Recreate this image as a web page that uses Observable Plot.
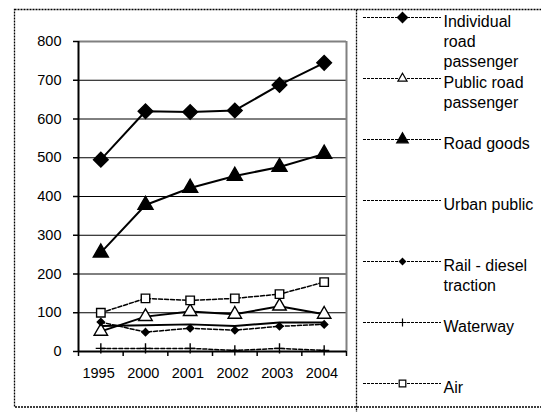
<!DOCTYPE html>
<html>
<head>
<meta charset="utf-8">
<script src="https://cdn.jsdelivr.net/npm/d3@7"></script>
<script src="https://cdn.jsdelivr.net/npm/@observablehq/plot@0.6"></script>
<style>
  html, body { margin: 0; padding: 0; background: #fff; overflow: hidden; }
  #wrap { position: relative; width: 541px; height: 412px; overflow: hidden; }
  #wrap > svg, #wrap > div { position: absolute; top: 0; }
</style>
</head>
<body>
<div id="wrap"></div>
<script>
// ---- data ----
const years = ["1995", "2000", "2001", "2002", "2003", "2004"];
const seriesNames = ["Individual road passenger", "Public road passenger", "Road goods", "Urban public", "Rail - diesel traction", "Waterway", "Air"];
const legendLabels = ["Individual\nroad\npassenger", "Public road\npassenger", "Road goods", "Urban public", "Rail - diesel\ntraction", "Waterway", "Air"];
const individualRoad = [495, 620, 618, 622, 688, 745];
const publicRoad = [52, 90, 103, 96, 117, 96];
const roadGoods = [255, 378, 422, 453, 476, 510];
const urbanPublic = [66, 68, 70, 66, 75, 75];
const railDiesel = [76, 50, 60, 55, 65, 70];
const waterway = [8, 8, 8, 3, 8, 3];
const air = [100, 137, 132, 137, 148, 179];
const yTicks = [0, 100, 200, 300, 400, 500, 600, 700, 800];

const seriesValues = [individualRoad, publicRoad, roadGoods, urbanPublic, railDiesel, waterway, air];
const rows = [];
seriesNames.forEach((s, k) => seriesValues[k].forEach((v, i) => rows.push({series: s, i, year: years[i], value: v})));

// ---- styles ----
const styles = {
  "Individual road passenger": {dash: null, width: 2, symbol: "diamond2", fill: "black", r: 6.6, lr: 4.6},
  "Public road passenger": {dash: null, width: 2, symbol: "triangle", fill: "white", r: 5.0, lr: 3.4},
  "Road goods": {dash: null, width: 2, symbol: "triangle", fill: "black", r: 5.6, lr: 4.3},
  "Urban public": {dash: null, width: 2, symbol: null},
  "Rail - diesel traction": {dash: "4,2", width: 1.5, symbol: "diamond2", fill: "black", r: 3.2, lr: 2.8},
  "Waterway": {dash: "4,2", width: 1.5, symbol: "plus", fill: "none", r: 3.4, lr: 2.7},
  "Air": {dash: "4,2", width: 1.5, symbol: "square2", fill: "white", r: 5.4, lr: 4.2}
};

const font = "'Liberation Sans', Arial, sans-serif";
const wrap = document.getElementById("wrap");

// ---- main chart ----
const lineMarks = seriesNames.map(s => Plot.line(rows.filter(d => d.series === s), {
  x: d => d.i + 0.5, y: "value", stroke: "black", strokeWidth: styles[s].width,
  strokeDasharray: styles[s].dash || undefined
}));
const dotMarks = seriesNames.filter(s => styles[s].symbol).map(s => Plot.dot(rows.filter(d => d.series === s), {
  x: d => d.i + 0.5, y: "value", symbol: styles[s].symbol, r: styles[s].r,
  fill: styles[s].fill, stroke: "black", strokeWidth: 1.4
}));

const chart = Plot.plot({
  width: 541, height: 412,
  marginLeft: 78, marginRight: 195, marginTop: 41, marginBottom: 61,
  x: {type: "linear", domain: [0, 6], axis: null},
  y: {domain: [0, 800], axis: null},
  style: {fontFamily: font, fontSize: "14.5px", color: "black", background: "transparent"},
  marks: [
    Plot.ruleY(yTicks.filter(t => t > 0 && t < 800), {stroke: "black", strokeWidth: 1}),
    Plot.ruleY([800], {stroke: "#808080", strokeWidth: 2}),
    Plot.ruleX([6], {stroke: "#808080", strokeWidth: 2}),
    Plot.axisY({ticks: yTicks, label: null, tickSize: 5, tickPadding: 12, stroke: "black", strokeWidth: 1.5, fill: "black", fontSize: 14.5}),
    Plot.axisX({ticks: d3.range(7), label: null, tickSize: 5, tickFormat: () => "", stroke: "black", strokeWidth: 1.5}),
    Plot.ruleX([0], {stroke: "black", strokeWidth: 2}),
    Plot.ruleY([0], {stroke: "black", strokeWidth: 2}),
    ...lineMarks,
    ...dotMarks,
    Plot.text(years, {x: (d, i) => i + 0.5 - 0.05, y: 0, dy: 22, text: d => d, fill: "black", fontSize: 14.5, lineAnchor: "middle"})
  ]
});
chart.style.left = "0px";
wrap.appendChild(chart);

// ---- legend ----
const legendDots = seriesNames.filter(s => styles[s].symbol).map(s => Plot.dot([s], {
  x: 0.5, y: d => d, symbol: styles[s].symbol, r: styles[s].lr,
  fill: styles[s].fill, stroke: "black", strokeWidth: 1.2
}));
const legend = Plot.plot({
  width: 185, height: 412, margin: 0,
  x: {domain: [0, 1], range: [7, 85], axis: null},
  y: {type: "point", domain: seriesNames, range: [17, 383], padding: 0, axis: null},
  style: {fontFamily: font, fontSize: "16px", color: "black", background: "transparent", overflow: "visible"},
  marks: [
    Plot.ruleY(seriesNames, {y: d => d, x1: 0, x2: 1, stroke: "black", strokeWidth: 1.2, strokeDasharray: "3,1"}),
    ...legendDots,
    Plot.text(seriesNames, {x: 1, y: d => d, text: (d, i) => legendLabels[i], textAnchor: "start", dx: 2,
      lineAnchor: "top", dy: -4, lineHeight: 1.23, fill: "black", fontSize: 16})
  ]
});
legend.style.left = "356px";
wrap.appendChild(legend);

// ---- chart-area borders ----
const border = d3.create("svg").attr("width", 541).attr("height", 412)
  .style("left", "0px").style("pointer-events", "none");
border.append("rect").attr("x", 14.5).attr("y", 9.5).attr("width", 620).attr("height", 397.5)
  .attr("fill", "none").attr("stroke", "black").attr("stroke-width", 1.3).attr("stroke-dasharray", "2,1");
border.append("line").attr("x1", 356.5).attr("x2", 356.5).attr("y1", 9.5).attr("y2", 412)
  .attr("stroke", "black").attr("stroke-width", 1.3).attr("stroke-dasharray", "2,1");
wrap.appendChild(border.node());
</script>
</body>
</html>
